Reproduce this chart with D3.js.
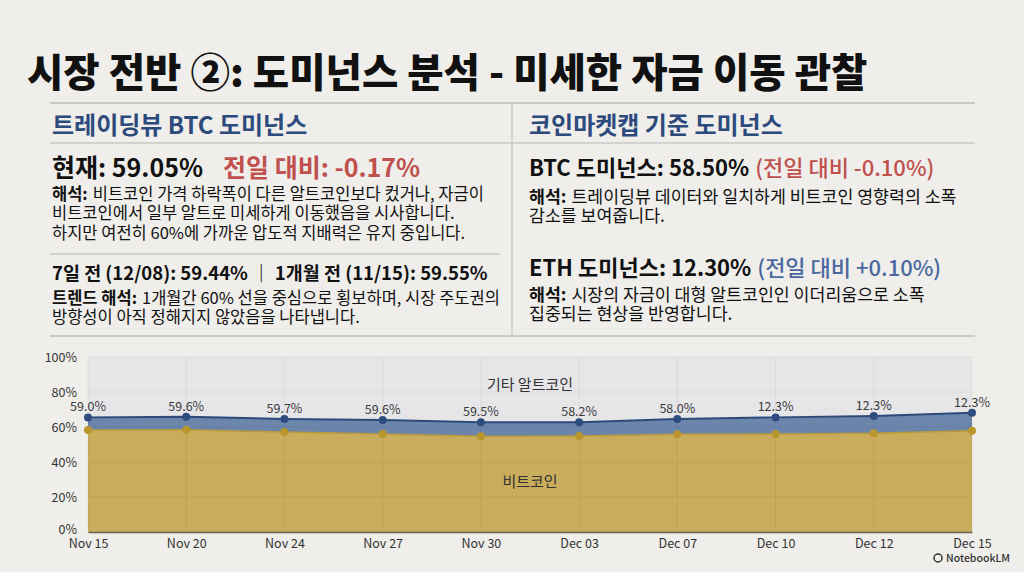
<!DOCTYPE html>
<html>
<head>
<meta charset="utf-8">
<script src="https://cdn.jsdelivr.net/npm/d3@7"></script>
<style>
  html, body { margin: 0; padding: 0; background: #efeeea; }
  svg { display: block; font-family: "Noto Sans CJK KR", "Noto Sans", sans-serif; }
</style>
</head>
<body>
<div id="chart"></div>
<script>
// data
var dates = ["Nov 15", "Nov 20", "Nov 24", "Nov 27", "Nov 30", "Dec 03", "Dec 07", "Dec 10", "Dec 12", "Dec 15"];
var btcValues = [58.3, 58.4, 57.1, 56.0, 54.7, 54.9, 55.8, 56.0, 56.4, 57.9];
var ethValues = [7.2, 7.5, 7.5, 8.0, 8.0, 7.8, 8.8, 9.5, 9.9, 10.3];
var pointLabels = ["59.0%", "59.6%", "59.7%", "59.6%", "59.5%", "58.2%", "58.0%", "12.3%", "12.3%", "12.3%"];
var yTicks = [0, 20, 40, 60, 80, 100];

var W = 1024, H = 572;
var svg = d3.select("#chart").append("svg")
    .attr("width", W)
    .attr("height", H);

svg.append("rect").attr("width", W).attr("height", H).attr("fill", "#efeeea");

//////////////// title + text panels ////////////////
svg.append("text")
    .attr("x", 27).attr("y", 87)
    .style("font-size", "39.5px")
    .style("font-weight", 900)
    .attr("fill", "#111")
    .text("시장 전반 ②: 도미넌스 분석 - 미세한 자금 이동 관찰");

var ruleColor = "#c9c9c6";
function hline(x1, x2, y, w) {
    svg.append("line").attr("x1", x1).attr("x2", x2).attr("y1", y).attr("y2", y)
        .attr("stroke", ruleColor).attr("stroke-width", w || 1.5);
}
hline(50, 975, 103, 2);
hline(50, 975, 143, 1.5);
hline(50, 500, 254, 1.5);
hline(50, 975, 336, 2);
svg.append("line").attr("x1", 512).attr("x2", 512).attr("y1", 103).attr("y2", 336)
    .attr("stroke", ruleColor).attr("stroke-width", 1.5);

function header(x, y, t) {
    svg.append("text").attr("x", x).attr("y", y)
        .style("font-size", "24px").style("font-weight", 700)
        .attr("fill", "#2c4a7c").text(t);
}
header(52, 134, "트레이딩뷰 BTC 도미넌스");
header(529, 134, "코인마켓캡 기준 도미넌스");

// one text block; each line: {y, size, runs: [[text, weight, colour, gap-before]]}
function block(x, lines) {
    var t = svg.append("text");
    lines.forEach(function(line) {
        line.runs.forEach(function(p, i) {
            var s = t.append("tspan")
                .style("font-size", line.size + "px")
                .style("font-weight", p[1]).attr("fill", p[2]).text(p[0]);
            if (i === 0) s.attr("x", x).attr("y", line.y);
            else s.attr("dx", p[3] || 0);
        });
    });
}

block(52, [
    {y: 177, size: 25, runs: [["현재: 59.05%", 700, "#111"], ["전일 대비: -0.17%", 700, "#c0504d", 20]]},
    {y: 200, size: 16.5, runs: [["해석:", 700, "#111"], ["비트코인 가격 하락폭이 다른 알트코인보다 컸거나, 자금이", 400, "#111", 5]]},
    {y: 219, size: 16.5, runs: [["비트코인에서 일부 알트로 미세하게 이동했음을 시사합니다.", 400, "#111"]]},
    {y: 239, size: 16.5, runs: [["하지만 여전히 60%에 가까운 압도적 지배력은 유지 중입니다.", 400, "#111"]]}
]);

block(52, [
    {y: 280, size: 18.5, runs: [["7일 전 (12/08): 59.44% ｜ 1개월 전 (11/15): 59.55%", 700, "#111"]]},
    {y: 304, size: 16.5, runs: [["트렌드 해석:", 700, "#111"], ["1개월간 60% 선을 중심으로 횡보하며, 시장 주도권의", 400, "#111", 5]]},
    {y: 323, size: 16.5, runs: [["방향성이 아직 정해지지 않았음을 나타냅니다.", 400, "#111"]]}
]);

block(529, [
    {y: 176, size: 22, runs: [["BTC 도미넌스: 58.50%", 700, "#111"], ["(전일 대비 -0.10%)", 500, "#c0504d", 6]]},
    {y: 203, size: 17.3, runs: [["해석:", 700, "#111"], ["트레이딩뷰 데이터와 일치하게 비트코인 영향력의 소폭", 400, "#111", 5]]},
    {y: 222, size: 17.3, runs: [["감소를 보여줍니다.", 400, "#111"]]}
]);

block(529, [
    {y: 276, size: 22, runs: [["ETH 도미넌스: 12.30%", 700, "#111"], ["(전일 대비 +0.10%)", 500, "#4a68a0", 6]]},
    {y: 301, size: 17.3, runs: [["해석:", 700, "#111"], ["시장의 자금이 대형 알트코인인 이더리움으로 소폭", 400, "#111", 5]]},
    {y: 320, size: 17.3, runs: [["집중되는 현상을 반영합니다.", 400, "#111"]]}
]);

//////////////// area chart ////////////////
var plot = {left: 88, right: 972, top: 357, bottom: 532};

var x = d3.scalePoint().domain(dates).range([plot.left, plot.right]);
var y = d3.scaleLinear().domain([0, 100]).range([plot.bottom, plot.top]);

var table = dates.map(function(d, i) {
    return {date: d, btc: btcValues[i], eth: ethValues[i], label: pointLabels[i]};
});
var stacked = d3.stack().keys(["btc", "eth"])(table);

var g = svg.append("g");

g.append("rect")
    .attr("x", plot.left).attr("y", plot.top)
    .attr("width", plot.right - plot.left).attr("height", plot.bottom - plot.top)
    .attr("fill", "#e6e6e9");

var area = d3.area()
    .x(function(d) { return x(d.data.date); })
    .y0(function(d) { return y(d[0]); })
    .y1(function(d) { return y(d[1]); });
var topLine = d3.line()
    .x(function(d) { return x(d.data.date); })
    .y(function(d) { return y(d[1]); });

var fills = ["#c9ad5c", "#6c85ab"];
var strokes = ["#b9993a", "#2e4a78"];
var dotFill = ["#b8962c", "#2d4c80"];

g.selectAll(".layer").data(stacked).enter().append("path")
    .attr("class", "layer")
    .attr("d", area)
    .attr("fill", function(d, i) { return fills[i]; });

// grid over the fill, faint
g.selectAll(".vgrid").data(dates).enter().append("line")
    .attr("x1", function(d) { return x(d); }).attr("x2", function(d) { return x(d); })
    .attr("y1", plot.top).attr("y2", plot.bottom)
    .attr("stroke", "#000").attr("stroke-opacity", 0.05).attr("stroke-width", 1);
g.selectAll(".hgrid").data(yTicks).enter().append("line")
    .attr("x1", plot.left).attr("x2", plot.right)
    .attr("y1", function(d) { return y(d); }).attr("y2", function(d) { return y(d); })
    .attr("stroke", "#000").attr("stroke-opacity", 0.05).attr("stroke-width", 1);

g.selectAll(".topline").data(stacked).enter().append("path")
    .attr("d", topLine)
    .attr("fill", "none")
    .attr("stroke", function(d, i) { return strokes[i]; })
    .attr("stroke-width", function(d, i) { return i ? 2 : 1.5; });

stacked.forEach(function(layer, li) {
    g.selectAll(".dot" + li).data(layer).enter().append("circle")
        .attr("cx", function(d) { return x(d.data.date); })
        .attr("cy", function(d) { return y(d[1]); })
        .attr("r", 4)
        .attr("fill", dotFill[li]);
});

g.selectAll(".plabel").data(stacked[1]).enter().append("text")
    .attr("x", function(d) { return x(d.data.date); })
    .attr("y", function(d) { return y(d[1]) - 6; })
    .attr("text-anchor", "middle")
    .style("font-size", "12.5px")
    .attr("fill", "#3a3a3a")
    .text(function(d) { return d.data.label; });

// axes
var yAxis = g.append("g")
    .attr("transform", "translate(" + plot.left + ",0)")
    .call(d3.axisLeft(y).tickValues(yTicks).tickFormat(function(d) { return d + "%"; }).tickSize(0).tickPadding(11));
yAxis.select(".domain").remove();
yAxis.selectAll("text").style("font-size", "12.5px").attr("fill", "#333")
    .style("font-family", "\"Noto Sans CJK KR\", \"Noto Sans\", sans-serif");
yAxis.selectAll(".tick").filter(function(d) { return d === 0; }).select("text").attr("dy", "0.1em");

var xAxis = g.append("g")
    .attr("transform", "translate(0," + plot.bottom + ")")
    .call(d3.axisBottom(x).tickSize(0).tickPadding(7));
xAxis.select(".domain").attr("stroke", "#6b6450").attr("stroke-width", 1.5);
xAxis.selectAll("text").style("font-size", "12.5px").attr("fill", "#333")
    .style("font-family", "\"Noto Sans CJK KR\", \"Noto Sans\", sans-serif");

// series names inside the areas
g.append("text").attr("x", 530).attr("y", 390).attr("text-anchor", "middle")
    .style("font-size", "15px").attr("fill", "#333").text("기타 알트코인");
g.append("text").attr("x", 530).attr("y", 487).attr("text-anchor", "middle")
    .style("font-size", "15px").attr("fill", "#333").text("비트코인");

// watermark
svg.append("text").attr("x", 1010).attr("y", 562).attr("text-anchor", "end")
    .style("font-size", "10.5px").style("font-weight", 500).attr("fill", "#333")
    .text("NotebookLM");
svg.append("circle").attr("cx", 938).attr("cy", 558).attr("r", 4)
    .attr("fill", "none").attr("stroke", "#333").attr("stroke-width", 1.5);
</script>
</body>
</html>
